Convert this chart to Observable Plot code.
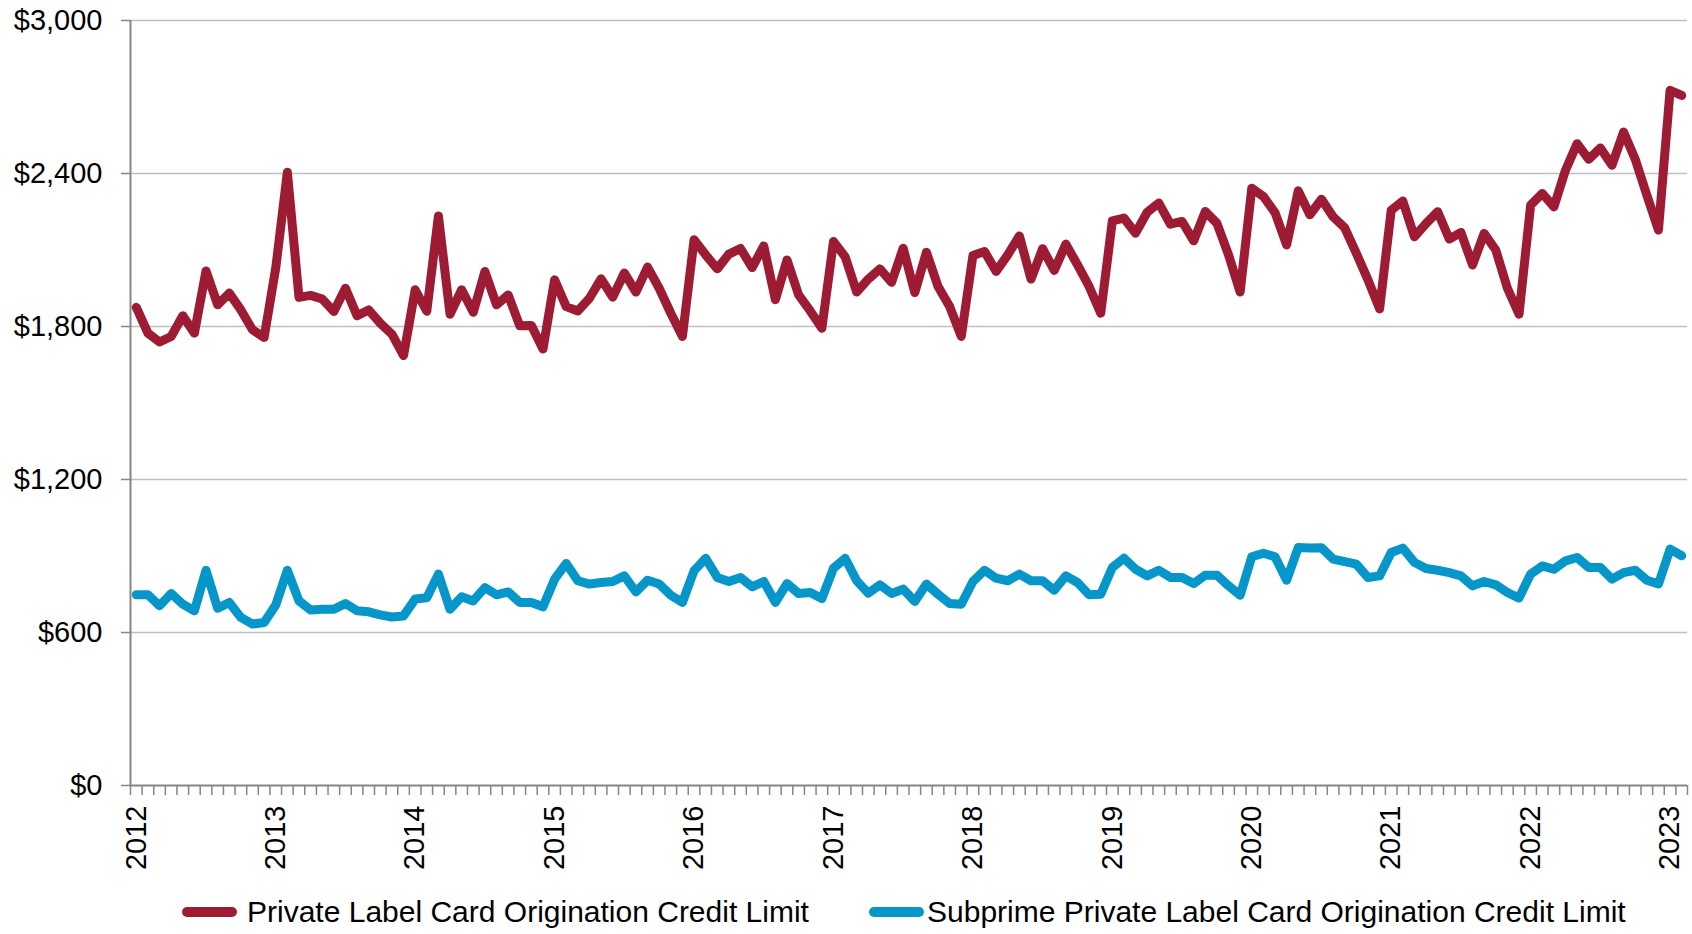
<!DOCTYPE html>
<html><head><meta charset="utf-8">
<script src="https://cdn.jsdelivr.net/npm/d3@7"></script>
<script src="https://cdn.jsdelivr.net/npm/@observablehq/plot@0.6"></script>
<style>
body{margin:0;background:#fff;font-family:"Liberation Sans",Arial,sans-serif;}
#legend{position:relative;height:44px;font-size:30px;color:#000;width:1692px}
.item{position:absolute;top:0;display:flex;align-items:center;height:44px;white-space:nowrap}
.sw{display:inline-block;width:55px;height:10px;border-radius:5px}
</style></head><body><div id="chart"></div><div id="legend"></div>
<script>
const seriesNames = ["Private Label Card Origination Credit Limit", "Subprime Private Label Card Origination Credit Limit"];
const seriesColors = ["#9d1c33", "#0796c9"];
const months = d3.utcMonths(new Date(Date.UTC(2012, 0, 1)), new Date(Date.UTC(2023, 2, 1)));
const yearLabels = d3.range(2012, 2024);
const yTicks = [0, 600, 1200, 1800, 2400, 3000];

const privateLabel = [
1875,1774,1739,1761,1842,1774,2018,1885,1931,1865,1787,1757,
2029,2405,1914,1922,1908,1859,1950,1842,1865,1813,1770,1686,
1944,1860,2233,1848,1944,1856,2016,1885,1924,1803,1804,1712,
1983,1878,1861,1911,1987,1915,2010,1935,2033,1950,1852,1761,
2140,2081,2026,2084,2106,2031,2116,1905,2061,1924,1861,1793,
2133,2074,1935,1986,2026,1973,2107,1933,2091,1957,1878,1761,
2078,2094,2016,2081,2155,1986,2105,2020,2123,2042,1957,1852,
2214,2225,2166,2248,2284,2201,2212,2136,2251,2205,2081,1935,
2342,2310,2247,2120,2332,2238,2299,2230,2187,2087,1983,1869,
2256,2292,2152,2204,2250,2143,2169,2041,2165,2100,1950,1848,
2276,2322,2269,2413,2517,2456,2500,2432,2563,2456,2315,2178,
2726,2706];

const subprime = [
748,748,705,753,711,685,844,695,718,659,633,639,
708,844,724,688,691,691,714,685,681,669,661,665,
731,736,829,691,740,724,776,748,759,718,718,701,
809,871,803,790,796,800,822,759,805,790,746,718,
842,891,816,800,816,779,800,718,792,753,757,733,
852,891,803,754,787,753,770,722,790,750,714,711,
800,844,813,803,829,803,803,766,822,796,748,750,
855,891,848,822,844,816,816,792,825,825,783,746,
897,911,897,805,933,931,932,888,878,868,816,822,
914,931,875,851,844,835,822,783,800,787,757,735,
829,861,848,881,894,855,855,809,835,844,805,790,
927,901];

const xOf = d => d.getUTCFullYear() + (d.getUTCMonth() + 0.5) / 12;
const data = months.flatMap((m, i) => [
  {x: xOf(m), v: privateLabel[i], s: seriesNames[0]},
  {x: xOf(m), v: subprime[i], s: seriesNames[1]}
]);
const x0 = 2012, x1 = 2012 + months.length / 12;
const monthEdges = d3.range(months.length + 1).map(k => x0 + k / 12);
const yearCenters = yearLabels.map(y => y + 0.5 / 12);
const axisColor = "#868686";

const chart = Plot.plot({
  width: 1692, height: 890,
  marginLeft: 130, marginRight: 5, marginTop: 20, marginBottom: 105,
  style: {fontFamily: "'Liberation Sans', Arial, sans-serif", fontSize: "29px", color: "#000", background: "#fff"},
  x: {type: "linear", domain: [x0, x1], label: null},
  y: {domain: [0, 3000], label: null},
  color: {domain: seriesNames, range: seriesColors},
  marks: [
    Plot.ruleY(yTicks.filter(d => d > 0), {stroke: "#bfbfbf", strokeWidth: 1.5}),
    Plot.axisY({ticks: yTicks, tickSize: 9, tickPadding: 19, label: null,
      tickFormat: d => "$" + d3.format(",")(d), stroke: axisColor, strokeWidth: 1.5, strokeOpacity: 1, fill: "#000"}),
    Plot.axisX({ticks: monthEdges, tickSize: 10, label: null, tickFormat: () => "", stroke: axisColor, strokeWidth: 1.5, strokeOpacity: 1}),
    Plot.axisX({ticks: yearCenters, tickSize: 0, tickPadding: 20, tickRotate: -90, label: null,
      tickFormat: d => String(Math.floor(d)), fill: "#000"}),
    Plot.ruleX([x0], {stroke: axisColor, strokeWidth: 2}),
    Plot.ruleY([0], {stroke: axisColor, strokeWidth: 2}),
    Plot.line(data, {x: "x", y: "v", z: "s", stroke: "s", strokeWidth: 9, strokeLinejoin: "round", strokeLinecap: "round"})
  ]
});
document.getElementById("chart").appendChild(chart);

const legend = document.getElementById("legend");
const legendPos = [[182, 10], [869, 3]];
seriesNames.forEach((name, i) => {
  const item = document.createElement("div");
  item.className = "item";
  item.style.left = legendPos[i][0] + "px";
  const sw = document.createElement("span");
  sw.className = "sw";
  sw.style.background = seriesColors[i];
  sw.style.marginRight = legendPos[i][1] + "px";
  const tx = document.createElement("span");
  tx.textContent = name;
  item.appendChild(sw); item.appendChild(tx);
  legend.appendChild(item);
});
</script></body></html>
